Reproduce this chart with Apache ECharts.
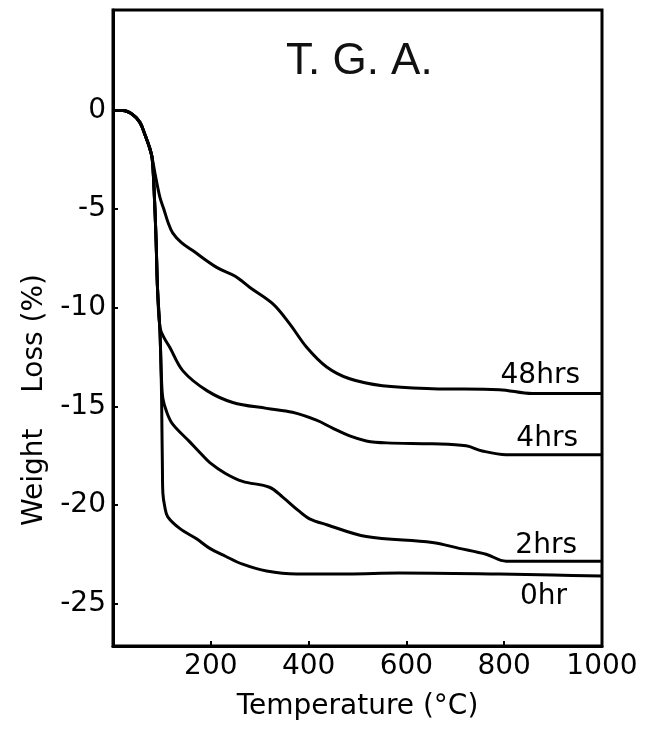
<!DOCTYPE html>
<html>
<head>
<meta charset="utf-8">
<script src="https://cdn.jsdelivr.net/npm/echarts@6/dist/echarts.min.js"></script>
<style>
  html, body { margin: 0; padding: 0; background: #fff; }
  #tga { width: 649px; height: 730px; }
</style>
</head>
<body>
<div id="tga"></div>
<script>
// temperature (C) / weight loss (%)
var temp48 = [0, 20, 40, 55, 65, 75, 80, 86, 96, 104, 113, 122, 140, 163, 212, 250, 280, 327, 361, 396, 437, 484, 551, 653, 790, 857, 1000];
var loss48 = [0, 0, -0.2, -0.6, -1.2, -1.9, -2.4, -3.2, -4.4, -5.0, -5.7, -6.2, -6.7, -7.1, -7.95, -8.4, -8.97, -9.8, -10.8, -12.0, -13.0, -13.6, -13.95, -14.1, -14.15, -14.35, -14.35];

var temp4 = [0, 20, 40, 55, 65, 75, 80, 84, 88, 91, 96, 104, 116, 143, 192, 245, 314, 367, 416, 449, 484, 518, 560, 653, 722, 755, 804, 900, 1000];
var loss4 = [0, 0, -0.2, -0.6, -1.2, -1.9, -2.4, -4.0, -6.5, -9.0, -11.0, -11.5, -12.0, -13.2, -14.2, -14.8, -15.1, -15.3, -15.7, -16.1, -16.5, -16.75, -16.85, -16.9, -17.0, -17.26, -17.45, -17.45, -17.45];

var temp2 = [0, 20, 40, 55, 65, 75, 80, 84, 88, 91, 96, 99, 102, 110, 122, 157, 178, 198, 230, 265, 320, 347, 380, 402, 437, 518, 653, 708, 763, 804, 900, 1000];
var loss2 = [0, 0, -0.2, -0.6, -1.2, -1.9, -2.4, -4.0, -6.5, -9.0, -11.2, -13.5, -14.6, -15.3, -15.9, -16.8, -17.35, -17.85, -18.4, -18.8, -19.1, -19.6, -20.3, -20.7, -21.0, -21.6, -21.9, -22.2, -22.5, -22.85, -22.85, -22.85];

var temp0 = [0, 20, 40, 55, 65, 75, 80, 84, 88, 91, 96, 99, 100, 101, 102, 106, 112, 137, 170, 198, 230, 265, 314, 376, 480, 585, 790, 900, 1000];
var loss0 = [0, 0, -0.2, -0.6, -1.2, -1.9, -2.4, -4.0, -6.5, -9.0, -11.2, -14.0, -16.0, -18.0, -19.4, -20.1, -20.6, -21.2, -21.7, -22.2, -22.6, -23.0, -23.35, -23.5, -23.5, -23.45, -23.5, -23.55, -23.6];

var xTicks = [200, 400, 600, 800, 1000];
var yTicks = [0, -5, -10, -15, -20, -25];

var FONT = 'DejaVu Sans';

function pairs(xs, ys) {
    var out = [];
    xs.forEach(function (x, i) { out.push([x, ys[i]]); });
    return out;
}

function curve(name, xs, ys, offset) {
    return {
        name: name,
        type: 'line',
        data: pairs(xs, ys),
        showSymbol: false,
        smooth: 0.35,
        lineStyle: { color: '#000', width: 3 },
        endLabel: {
            show: true,
            formatter: name,
            color: '#000',
            fontFamily: FONT,
            fontSize: 28,
            align: 'right',
            verticalAlign: 'middle',
            distance: 0,
            offset: offset
        }
    };
}

var chart = echarts.init(document.getElementById('tga'));
var option = {
    backgroundColor: '#fff',
    animation: false,
    title: {
        text: 'T. G. A.',
        left: 281,
        top: 35,
        textStyle: { fontFamily: 'Liberation Sans', fontSize: 44, fontWeight: 'normal', color: '#111' }
    },
    grid: {
        left: 113, right: 47, top: 10, bottom: 84,
        show: true, borderColor: '#000', borderWidth: 3
    },
    xAxis: {
        type: 'value',
        min: 0, max: 1000, interval: 200,
        name: 'Temperature (°C)',
        nameLocation: 'middle',
        nameGap: 47,
        nameTextStyle: { fontFamily: FONT, fontSize: 28, color: '#000' },
        splitLine: { show: false },
        axisLine: { show: true, onZero: false, lineStyle: { color: '#000', width: 3 } },
        axisTick: { show: true, inside: true, length: 5, lineStyle: { color: '#000', width: 2 }, customValues: xTicks },
        axisLabel: {
            fontFamily: FONT, fontSize: 28, color: '#000', margin: 7, customValues: xTicks,
            formatter: function (v) { return String(v); }
        }
    },
    yAxis: {
        type: 'value',
        min: -27.15, max: 5.1,
        splitLine: { show: false },
        axisLine: { show: true, onZero: false, lineStyle: { color: '#000', width: 3 } },
        axisTick: { show: true, inside: true, length: 5, lineStyle: { color: '#000', width: 2 }, customValues: yTicks },
        axisLabel: { fontFamily: FONT, fontSize: 28, color: '#000', margin: 7, customValues: yTicks }
    },
    graphic: [{
        type: 'text',
        x: 35, y: 400,
        rotation: Math.PI / 2,
        style: {
            text: 'Weight    Loss (%)',
            fontFamily: FONT, fontSize: 28, fill: '#000',
            align: 'center', verticalAlign: 'middle'
        }
    }],
    series: [
        curve('48hrs', temp48, loss48, [-22, -18]),
        curve('4hrs', temp4, loss4, [-24, -16]),
        curve('2hrs', temp2, loss2, [-25, -15]),
        curve('0hr', temp0, loss0, [-35, 21])
    ]
};
chart.setOption(option);
</script>
</body>
</html>
